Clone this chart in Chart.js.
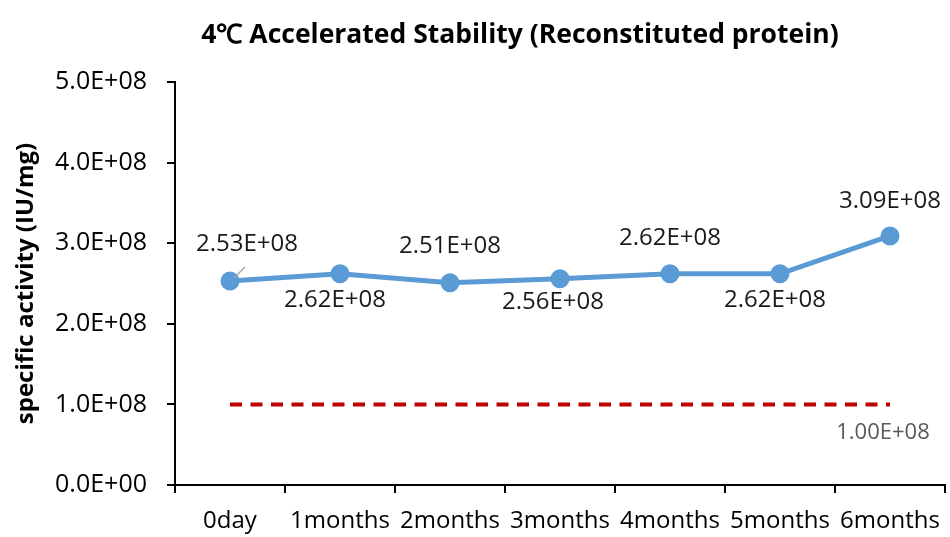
<!DOCTYPE html>
<html>
<head>
<meta charset="utf-8">
<script src="https://cdn.jsdelivr.net/npm/chart.js@4.4.1/dist/chart.umd.min.js"></script>
<style>
  body { margin: 0; background: #fff; }
  #wrap { width: 950px; height: 537px; }
</style>
</head>
<body>
<div id="wrap"><canvas id="chart" width="950" height="537"></canvas></div>
<script>
// ---- data ----
const categories = ["0day", "1months", "2months", "3months", "4months", "5months", "6months"];
const activity = [2.53e8, 2.62e8, 2.51e8, 2.56e8, 2.62e8, 2.62e8, 3.09e8];
const limit = [1e8, 1e8, 1e8, 1e8, 1e8, 1e8, 1e8];
const yTicks = { min: 0, max: 5e8, step: 1e8 };

const FONT = "'Open Sans', 'Liberation Sans', sans-serif";

// 2.53E+08 style
function sci(v, d) {
  const [m, e] = v.toExponential(d).split("e");
  const n = parseInt(e, 10);
  return m + "E" + (n < 0 ? "-" : "+") + String(Math.abs(n)).padStart(2, "0");
}

// labels next to each point + the chart title
const labelPlugin = {
  id: "pointLabels",
  afterDatasetsDraw(chart, args, opts) {
    const ctx = chart.ctx;
    ctx.save();
    ctx.textAlign = "center";
    ctx.textBaseline = "middle";

    // values of the blue line
    const meta = chart.getDatasetMeta(0);
    ctx.font = "24px " + FONT;
    ctx.fillStyle = "#1a1a1a";
    meta.data.forEach((pt, i) => {
      const [dx, dy] = opts.offsets[i];
      if (i === 0) {
        ctx.strokeStyle = "#a6a6a6";
        ctx.lineWidth = 1.5;
        ctx.beginPath();
        ctx.moveTo(pt.x + 4, pt.y - 3);
        ctx.lineTo(pt.x + 15, pt.y - 14);
        ctx.stroke();
      }
      ctx.fillText(sci(activity[i], 2), pt.x + dx, pt.y + dy);
    });

    // label of the limit line, below its last point
    const lm = chart.getDatasetMeta(1);
    const last = lm.data[lm.data.length - 1];
    ctx.font = "22px " + FONT;
    ctx.fillStyle = "#595959";
    ctx.fillText(sci(limit[limit.length - 1], 2), last.x - 7, last.y + 28);

    // title
    ctx.font = "bold 26.5px " + FONT;
    ctx.fillStyle = "#000";
    ctx.fillText("4℃ Accelerated Stability (Reconstituted protein)", 520, 35);
    ctx.restore();
  }
};

new Chart(document.getElementById("chart"), {
  type: "line",
  data: {
    labels: categories,
    datasets: [
      {
        data: activity,
        borderColor: "#5B9BD5",
        backgroundColor: "#5B9BD5",
        borderWidth: 5,
        pointRadius: 7,
        pointHoverRadius: 7,
        tension: 0
      },
      {
        data: limit,
        borderColor: "#C00000",
        borderWidth: 4,
        borderDash: [12, 8.5],
        pointRadius: 0,
        tension: 0
      }
    ]
  },
  options: {
    responsive: false,
    animation: false,
    layout: { autoPadding: false, padding: { top: 82, right: 5, left: 0, bottom: 0 } },
    plugins: {
      legend: { display: false },
      tooltip: { enabled: false },
      pointLabels: {
        offsets: [[17, -37], [-5, 26], [0, -37], [-7, 23], [0, -36], [-5, 26], [0, -35]]
      }
    },
    scales: {
      x: {
        offset: true,
        grid: { offset: true, drawOnChartArea: false, drawTicks: true, tickLength: 8, color: "#000", lineWidth: 2 },
        border: { display: true, color: "#000", width: 2 },
        ticks: { autoSkip: false, maxRotation: 0, padding: 14, color: "#000", font: { family: FONT, size: 24 } },
        afterFit(s) { s.height = 52; s.paddingLeft = 0; s.paddingRight = 0; }
      },
      y: {
        min: yTicks.min,
        max: yTicks.max,
        grid: { drawOnChartArea: false, drawTicks: true, tickLength: 8, color: "#000", lineWidth: 2 },
        border: { display: true, color: "#000", width: 2 },
        ticks: {
          stepSize: yTicks.step,
          padding: 20,
          color: "#000",
          font: { family: FONT, size: 25 },
          callback: v => sci(v, 1)
        },
        title: {
          display: true,
          text: "specific activity (IU/mg)",
          color: "#000",
          font: { family: FONT, size: 24, weight: "bold" },
          padding: { top: 12, bottom: 0 }
        },
        afterFit(s) { s.width = 175; }
      }
    }
  },
  plugins: [labelPlugin]
});
</script>
</body>
</html>
